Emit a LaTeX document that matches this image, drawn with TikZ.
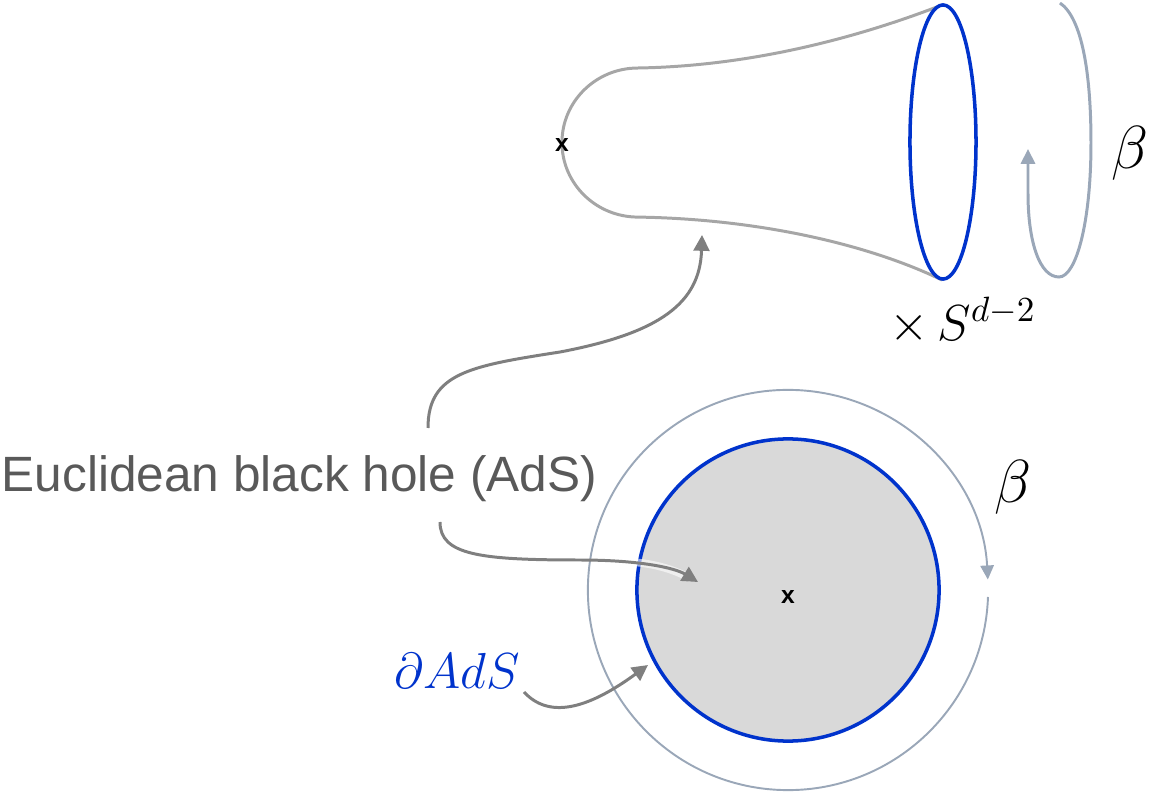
\documentclass[tikz,border=0pt]{standalone}
\usepackage{fontspec}
\setsansfont{Liberation Sans}
\usetikzlibrary{arrows.meta}
\definecolor{bhblue}{HTML}{0033CC}
\definecolor{outlinegrey}{HTML}{A6A6A6}
\definecolor{arrowgrey}{HTML}{7F7F7F}
\definecolor{ringgrey}{HTML}{9AA7B8}
\definecolor{diskgrey}{HTML}{D9D9D9}
\definecolor{textgrey}{HTML}{595959}
\begin{document}
\begin{tikzpicture}[x=0.01cm, y=0.01cm]
    \tikzstyle{outline} = [draw=outlinegrey, line width=0.85pt]
    \tikzstyle{rim} = [draw=bhblue, line width=1pt]
    \tikzstyle{ring} = [draw=ringgrey, line width=0.55pt]
    \tikzstyle{arrow} = [draw=arrowgrey, line width=0.85pt, -{Triangle[length=4.5pt,width=4.5pt]}]
    \tikzstyle{glow} = [draw=white, line width=2.2pt, opacity=0.6, line cap=round]
    \tikzstyle{pointmark} = [font=\sffamily\bfseries\fontsize{7}{8}\selectfont, inner sep=0pt]
    \tikzstyle{beta} = [font=\fontsize{16}{19}\selectfont, inner sep=0pt]
    \useasboundingbox (0,0) rectangle (1150,793);

    % Cigar (top)
    \draw[outline] (942,788) .. controls (870,760) and (760,727) .. (638,725)
        arc[start angle=90, end angle=270, x radius=0.76cm, y radius=0.745cm]
        .. controls (760,574) and (870,548) .. (942,513);
    \draw[rim] (943,651) ellipse [x radius=0.33cm, y radius=1.37cm];
    \node[pointmark] (xtop) at (562,648) {x};

    % Thermal circle (top right)
    \coordinate (turn0) at (1060,790);
    \coordinate (turn1) at (1028,644);
    \draw[ring, line width=0.85pt, -{Triangle[length=4.2pt,width=4pt]}] (turn0)
        .. controls (1082,775) and (1091,720) .. (1091,650)
        .. controls (1091,570) and (1076,516) .. (1059,516)
        .. controls (1040,516) and (1028,550) .. (1028,600) -- (turn1);
    \node[beta] (betatop) at (1130,640) {$\beta$};
    \node[font=\fontsize{14}{17}\selectfont, inner sep=0pt] (sphere) at (963,472) {$\times\, S^{d-2}$};

    % Euclidean disk (bottom)
    \coordinate (c) at (788,203);
    \fill[diskgrey] (c) circle [radius=1.51cm];
    \draw[rim] (c) circle [radius=1.51cm];
    \node[pointmark] (xbot) at (788,196) {x};
    \draw[ring, -{Triangle[length=4pt,width=3.8pt]}] ([shift={(-2:2cm)}]c)
        arc[start angle=-2, end angle=-357, radius=2cm];
    \node[beta] (betabot) at (1013,306) {$\beta$};

    % Labels
    \node[font=\sffamily\fontsize{14.1}{17}\selectfont, text=textgrey, inner sep=0pt, anchor=base west] (bh) at (1,301) {Euclidean black hole (AdS)};
    \node[font=\fontsize{13.5}{16}\selectfont, text=bhblue, inner sep=0pt] (bdy) at (457,122) {$\partial AdS$};

    % Connections
    \coordinate (up0) at (428,365);
    \coordinate (up1) at (702,558);
    \coordinate (in0) at (440,271);
    \coordinate (in1) at (698,211);
    \coordinate (bd0) at (524,101);
    \coordinate (bd1) at (648,128);
    \draw[arrow] (up0) .. controls (428,420) and (470,427) .. (560,441)
        .. controls (660,460) and (700,490) .. (up1);
    \draw[glow] (620,232) .. controls (655,230) and (672,224) .. (690,215);
    \draw[arrow] (in0) .. controls (440,238) and (480,233) .. (580,233)
        .. controls (640,233) and (675,225) .. (in1);
    \draw[arrow] (bd0) .. controls (548,75) and (585,82) .. (bd1);
\end{tikzpicture}
\end{document}
